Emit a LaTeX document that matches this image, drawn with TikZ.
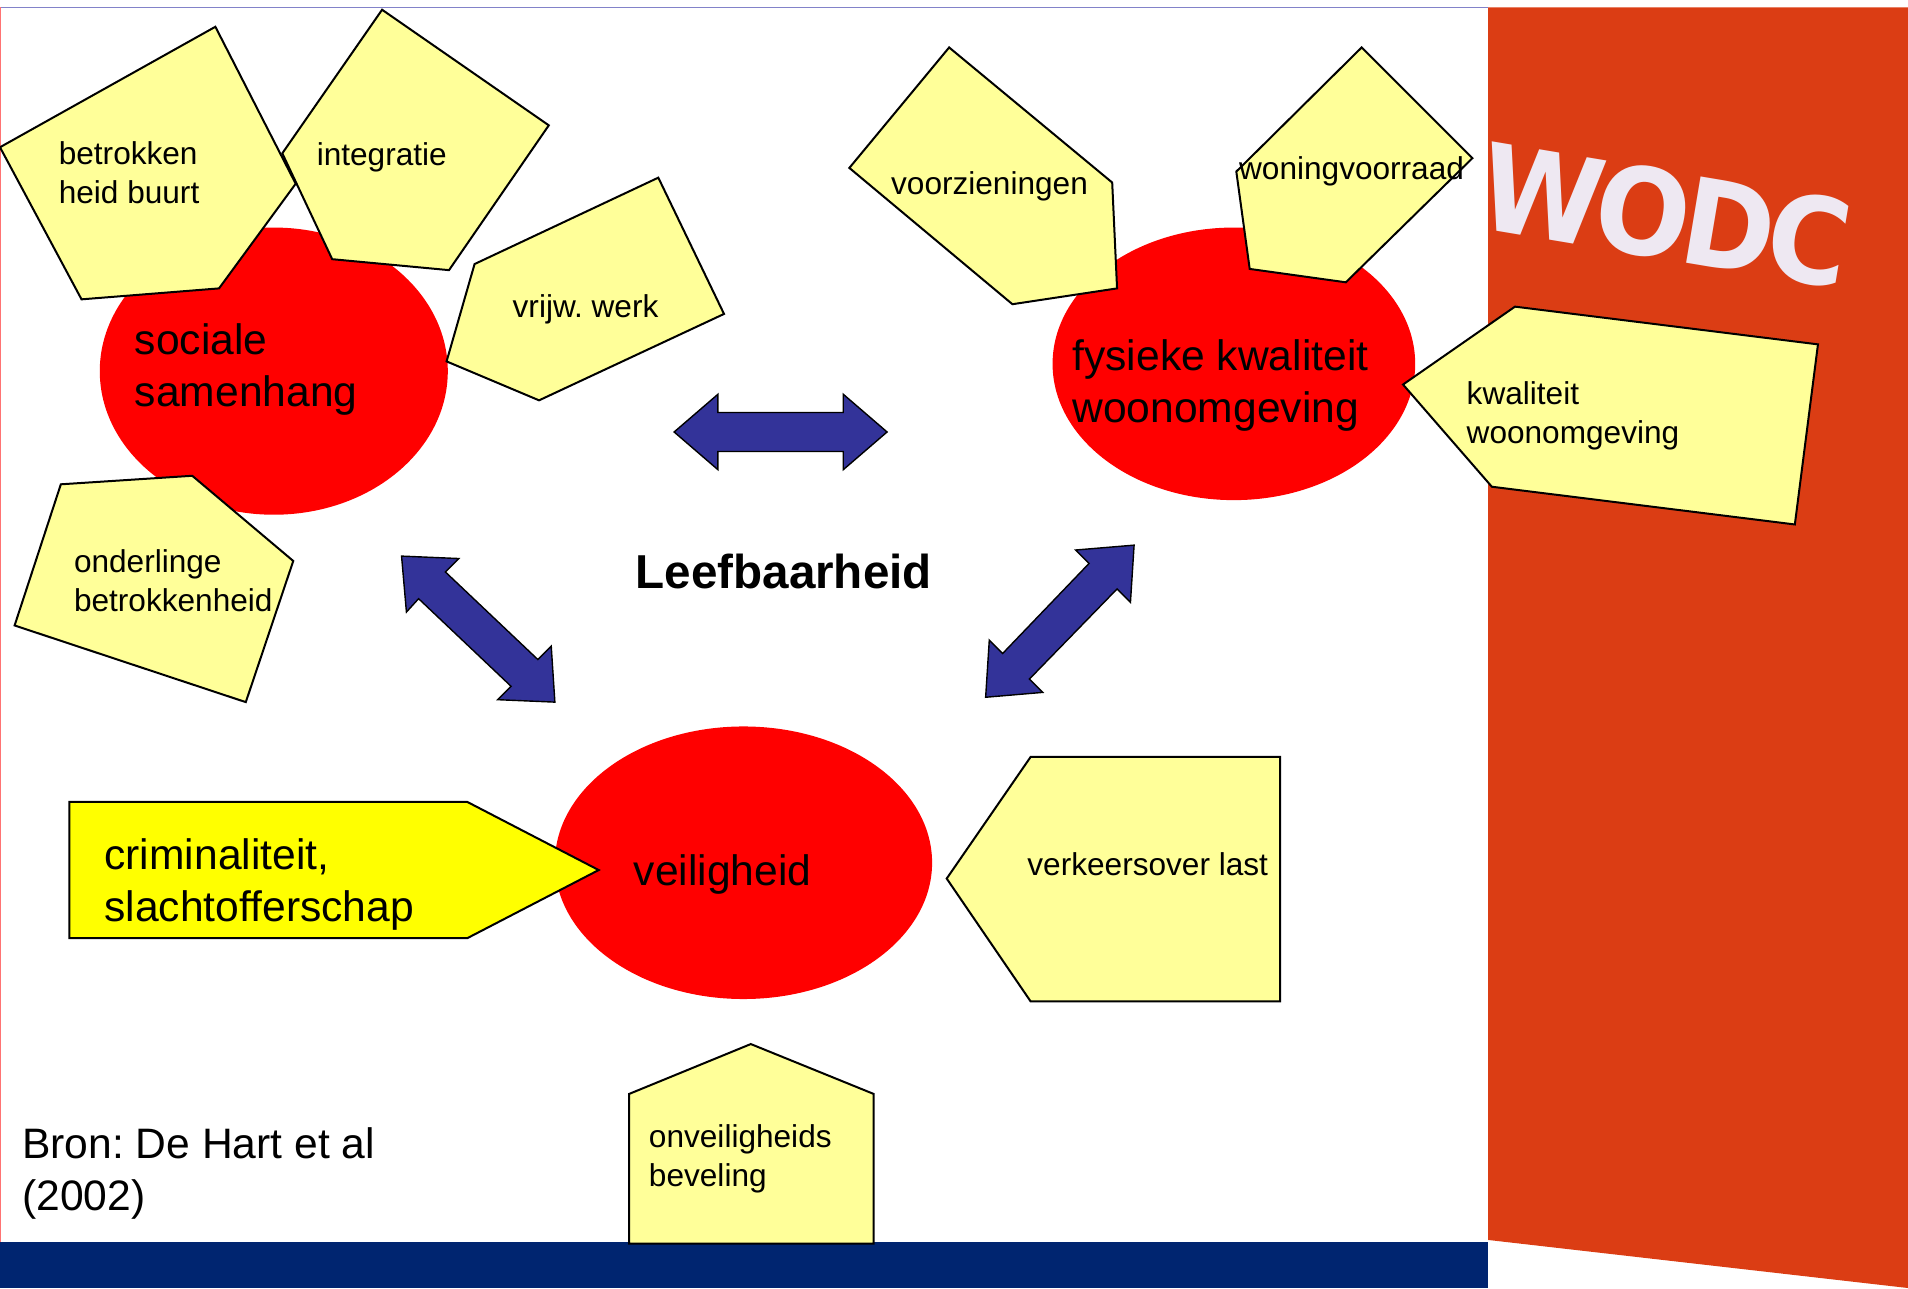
\documentclass[tikz,border=0pt]{standalone}
\usepackage{fontspec}
\setmainfont{Liberation Sans}
\newfontfamily\logofont[LetterSpace=-6]{DejaVu Sans}
\definecolor{wodcorange}{HTML}{DB3D14}
\definecolor{wodcnavy}{HTML}{002570}
\definecolor{paleyellow}{HTML}{FFFF99}
\definecolor{brightyellow}{HTML}{FFFF00}
\definecolor{arrowblue}{HTML}{333399}
\definecolor{logowhite}{HTML}{EEE8F2}
\tikzset{
  tag/.style={draw=black,fill=paleyellow,line width=1pt,line join=miter},
  boldtag/.style={tag,fill=brightyellow},
  blob/.style={fill=red,draw=none},
  biarrow/.style={draw=black,fill=arrowblue,line width=0.7pt},
  small/.style={anchor=west,inner sep=0pt,align=left,font=\frenchspacing\fontsize{15.8}{19.5}\selectfont},
  large/.style={anchor=west,inner sep=0pt,align=left,font=\frenchspacing\fontsize{21.3}{26}\selectfont},
}
\begin{document}
\begin{tikzpicture}[x=0.60842pt,y=-0.60842pt]
\useasboundingbox (0,0) rectangle (1568,1058.5);
% background bands
\fill[wodcorange] (1223,6) -- (1568,6) -- (1568,1058.5) -- (1223,1019) -- cycle;
\fill[wodcnavy] (0,1021) rectangle (1223,1058.5);
\draw[color=blue!40!gray!70,line width=0.5pt] (0,6) -- (1223,6);
\draw[color=red!55,line width=0.5pt] (0.5,6) -- (0.5,1021);
\begin{scope}
\clip (1223,6) rectangle (1568,400);
\node (logo) [rotate=-9.5,xscale=0.93,anchor=east,inner sep=0pt,text=logowhite,font=\logofont\fontsize{60}{60}\selectfont\bfseries] at (1520,202) {WODC};
\end{scope}
% ellipses
\fill[blob] (225,305) ellipse [x radius=143,y radius=118];
\fill[blob] (1014,299) ellipse [x radius=149,y radius=112];
\fill[blob] (611,709) ellipse [x radius=155,y radius=112];
% double arrows
\draw[biarrow] (554,355) -- (590,324) -- (590,339) -- (693,339) -- (693,324) -- (729,355) -- (693,386) -- (693,371) -- (590,371) -- (590,386) -- cycle;
\draw[biarrow] (330,457) -- (377,459) -- (366,470) -- (442,542) -- (453,531) -- (456,577) -- (409,575) -- (420,564) -- (344,492) -- (334,503) -- cycle;
\draw[biarrow] (932,448) -- (929,495) -- (918,484) -- (846,558) -- (857,569) -- (810,573) -- (813,526) -- (824,537) -- (895,463) -- (884,452) -- cycle;
% callouts
\draw[tag] (177,22) -- (243,151) -- (180,237) -- (67,246) -- (0,121) -- cycle;
\draw[tag] (314,8) -- (451,103) -- (369,222) -- (273,213) -- (232,126) -- cycle;
\draw[tag] (541,146) -- (595,258) -- (443,329) -- (367,297) -- (390,217) -- cycle;
\draw[tag] (50,398) -- (158,391) -- (241,461) -- (202,577) -- (12,514) -- cycle;
\draw[tag] (780,39) -- (914,150) -- (918,237) -- (832,250) -- (698,138) -- cycle;
\draw[tag] (1119,39) -- (1210,130) -- (1106,232) -- (1027,221) -- (1016,141) -- cycle;
\draw[tag] (1245,252) -- (1494,283) -- (1475,431) -- (1226,400) -- (1153,316) -- cycle;
\draw[boldtag] (57,659) -- (384,659) -- (492,715) -- (384,771) -- (57,771) -- cycle;
\draw[tag] (847,622) -- (1052,622) -- (1052,823) -- (847,823) -- (778,722) -- cycle;
\draw[tag] (617,858) -- (718,899) -- (718,1022) -- (517,1022) -- (517,899) -- cycle;
% labels
\node[small] (betrokken) at (48,142) {betrokken\\heid buurt};
\node[small] (integratie) at (260,129) {integratie};
\node[small] (vrijw) at (421,254) {vrijw. werk};
\node[small] (onderlinge) at (60.5,477) {onderlinge\\betrokkenheid};
\node[small] (voorz) at (732,153) {voorzieningen};
\node[small] (woning) at (1018,140.5) {woningvoorraad};
\node[small] (kwal) at (1205,342) {kwaliteit\\woonomgeving};
\node[small] (verkeer) at (844,710) {verkeersover last};
\node[small] (onveilig) at (533,952) {onveiligheids\\beveling};
\node[large] (sociale) at (110.5,304) {sociale\\samenhang};
\node[large] (fysiek) at (881,316.5) {fysieke kwaliteit\\woonomgeving};
\node[large] (veilig) at (520.5,718.5) {veiligheid};
\node[large] (crimi) at (85.5,727) {criminaliteit,\\slachtofferschap};
\node[large] (bron) at (18,964) {Bron: De Hart et al\\(2002)};
\node[anchor=west,inner sep=0pt,font=\fontsize{23.8}{28}\selectfont\bfseries] (leef) at (522,470) {Leefbaarheid};
\end{tikzpicture}
\end{document}
